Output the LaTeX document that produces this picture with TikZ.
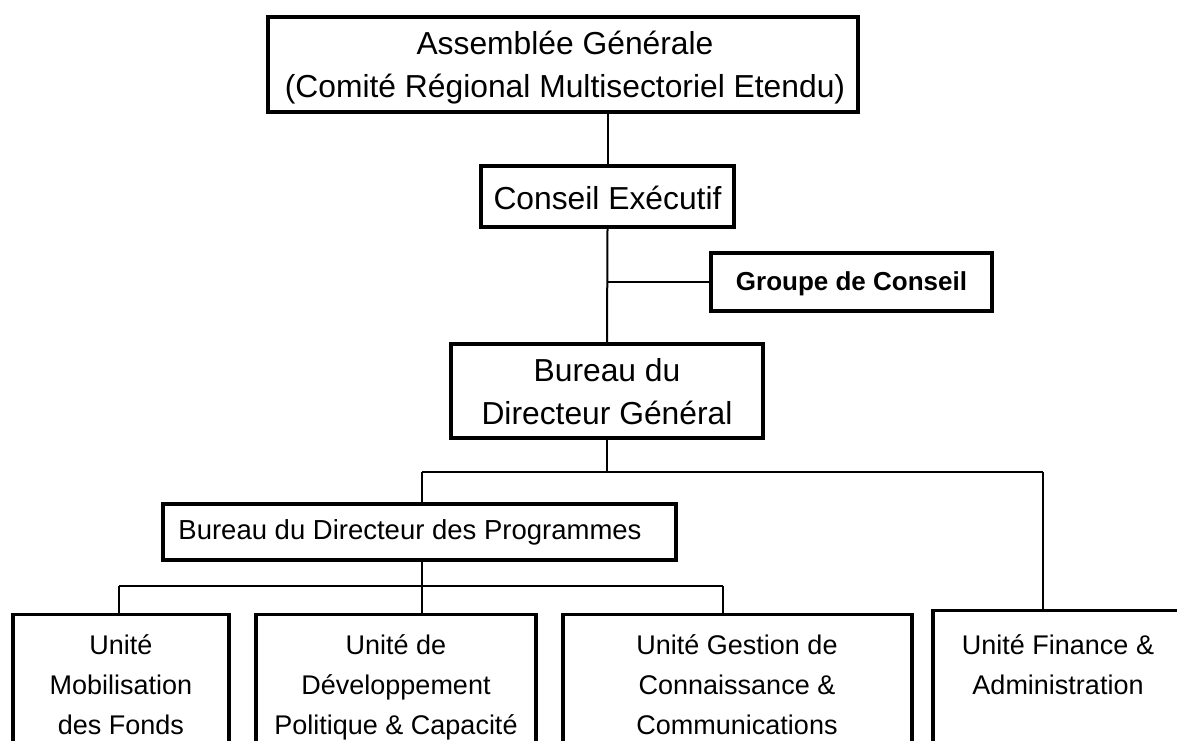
\documentclass[tikz,border=0pt]{standalone}
\usepackage{fontspec}
\setmainfont{Liberation Sans}
\begin{document}
\begin{tikzpicture}[x=1pt,y=-1pt,
  box/.style={draw=black, line width=3.3pt, rectangle, inner sep=0pt},
  bigtext/.style={font=\fontsize{31.8}{43}\selectfont, align=center, inner sep=0pt},
  midtext/.style={font=\fontsize{27.5}{40}\selectfont, align=center, inner sep=0pt},
  unittext/.style={font=\fontsize{27}{40}\selectfont, align=center, inner sep=0pt, anchor=north},
  boldtext/.style={font=\fontsize{26}{32}\selectfont\bfseries, align=center, inner sep=0pt},
  link/.style={draw=black, line width=2pt}
]
\useasboundingbox (0,0) rectangle (1177,740);
\clip (0,0) rectangle (1177,740);

% upper chain of governance
\node[box, minimum width=590pt, minimum height=95pt] (top) at (563,64.5) {};
\node[bigtext] (topt) at (565,67.5)
  {\strut Assemblée Générale\\(Comité Régional Multisectoriel Etendu)\strut};
\node[box, minimum width=253pt, minimum height=61pt] (conseil) at (607.5,196.5) {};
\node[bigtext] (conseilt) at (607.5,197.5) {Conseil Exécutif};
\node[box, minimum width=281pt, minimum height=58pt] (groupe) at (851.5,282) {};
\node[boldtext] (groupet) at (851.5,283.5) {Groupe de Conseil};
\node[box, minimum width=312pt, minimum height=94pt] (bdg) at (607,391) {};
\node[bigtext] (bdgt) at (607,394.5) {\strut Bureau du\\Directeur Général\strut};

% programme office
\node[box, minimum width=513pt, minimum height=56pt] (prog) at (419.5,532) {};
\node[midtext] (progt) at (410,532) {Bureau du Directeur des Programmes};

% operating units (running off the lower edge)
\node[box, anchor=north, minimum width=216pt, minimum height=200pt] (u1) at (121,613) {};
\node[box, anchor=north, minimum width=280pt, minimum height=200pt] (u2) at (396,613) {};
\node[box, anchor=north, minimum width=349pt, minimum height=200pt] (u3) at (737.5,613) {};
\node[box, anchor=north, minimum width=250pt, minimum height=200pt] (u4) at (1058,609) {};
\node[unittext] (u1t) at (121,626) {\strut Unité\\Mobilisation\\des Fonds};
\node[unittext] (u2t) at (396,626) {\strut Unité de\\Développement\\Politique \& Capacité};
\node[unittext] (u3t) at (737,626) {\strut Unité Gestion de\\Connaissance \&\\Communications};
\node[unittext] (u4t) at (1058,626) {\strut Unité Finance \&\\Administration};

% junction points
\coordinate (j1) at (422,472);
\coordinate (j2) at (1043,472);
\coordinate (k1) at (119,586);
\coordinate (k2) at (422,586);
\coordinate (k3) at (723,586);

% connectors
\draw[link] (conseil.north) -- (conseil.north |- top.south);
\draw[link] (conseil.south) -- (bdg.north);
\draw[link] (conseil.south |- groupe.west) -- (groupe.west);
\draw[link] (bdg.south) -- (bdg.south |- j1);
\draw[link] (j1) -- (j2);
\draw[link] (j1) -- (j1 |- prog.north);
\draw[link] (j2) -- (j2 |- u4.north);
\draw[link] (k2 |- prog.south) -- (k2);
\draw[link] (k1) -- (k3);
\draw[link] (k1) -- (k1 |- u1.north);
\draw[link] (k2) -- (k2 |- u2.north);
\draw[link] (k3) -- (k3 |- u3.north);
\end{tikzpicture}
\end{document}
